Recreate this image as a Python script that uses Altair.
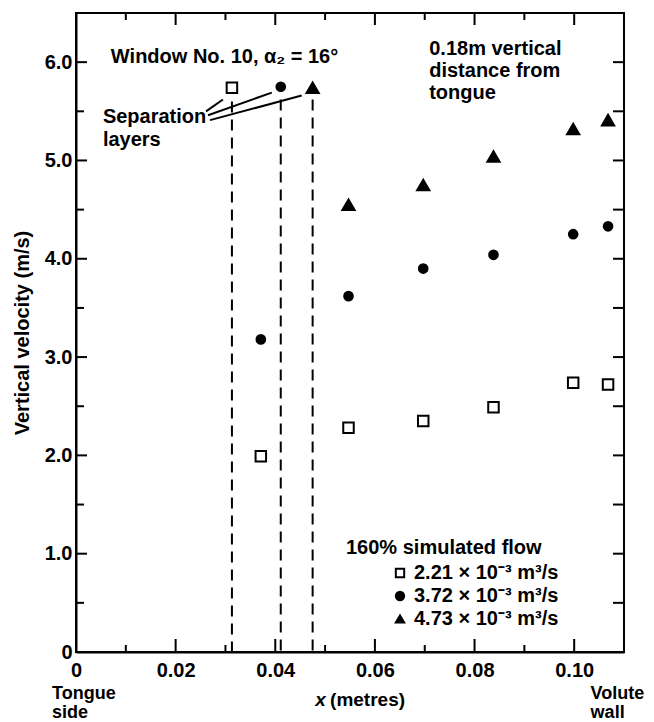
import altair as alt
import pandas as pd

# ---------------- data ----------------
series_labels = ["2.21 × 10⁻³ m³/s", "3.72 × 10⁻³ m³/s", "4.73 × 10⁻³ m³/s"]

x_sq = [0.0313, 0.0371, 0.0547, 0.0697, 0.0838, 0.0998, 0.1068]
v_sq = [5.74, 1.99, 2.28, 2.35, 2.49, 2.74, 2.72]
x_ci = [0.0411, 0.0371, 0.0547, 0.0697, 0.0838, 0.0998, 0.1068]
v_ci = [5.75, 3.18, 3.62, 3.90, 4.04, 4.25, 4.33]
x_tr = [0.0475, 0.0547, 0.0697, 0.0838, 0.0998, 0.1068]
v_tr = [5.74, 4.55, 4.75, 5.04, 5.32, 5.41]

# separation layer positions (dashed verticals)
sep_x = [0.0313, 0.0411, 0.0475]
sep_v = [5.60, 5.62, 5.62]

# leader lines for "Separation layers"
lead_x1 = [0.0261, 0.0265, 0.0269]
lead_v1 = [5.50, 5.46, 5.41]
lead_x2 = [0.0295, 0.0393, 0.0453]
lead_v2 = [5.62, 5.69, 5.66]

x_labels = [0, 0.02, 0.04, 0.06, 0.08, 0.10]
y_labels = [0, 1, 2, 3, 4, 5, 6]
xt_major = [0.02, 0.04, 0.06, 0.08, 0.10]
xt_minor = [0.01, 0.03, 0.05, 0.07, 0.09]
yt_major = [1.0, 2.0, 3.0, 4.0, 5.0, 6.0]
yt_minor = [0.5, 1.5, 2.5, 3.5, 4.5, 5.5]

# ---------------- layout ----------------
W, H = 548, 639
FONT = "Liberation Sans"
FS = 20

xs = alt.Scale(domain=[0, 0.11], nice=False, zero=False)
ys = alt.Scale(domain=[0, 6.5], nice=False, zero=False)

x_axis = alt.Axis(values=x_labels, labelExpr="datum.value == 0 ? '0' : format(datum.value, '.2f')",
                  ticks=False, grid=False, title=None, labelPadding=8, labelFlush=False,
                  domainWidth=2, domainColor="black", labelColor="black",
                  labelFont=FONT, labelFontSize=FS, labelFontWeight="bold")
y_axis = alt.Axis(values=y_labels, labelExpr="datum.value == 0 ? '0' : format(datum.value, '.1f')",
                  ticks=False, grid=False, title="Vertical velocity (m/s)", labelPadding=4,
                  labelFlush=False, domainWidth=2, domainColor="black", labelColor="black",
                  labelFont=FONT, labelFontSize=FS, labelFontWeight="bold",
                  titleFont=FONT, titleFontSize=FS, titleFontWeight="bold", titleColor="black",
                  titlePadding=12)

LEG = alt.Legend(
    title="160% simulated flow", orient="none", legendX=270, legendY=525,
    titleFont=FONT, titleFontSize=FS, titleFontWeight="bold", titleColor="black", titleLimit=400,
    labelFont=FONT, labelFontSize=FS, labelFontWeight="bold", labelColor="black",
    symbolSize=70, symbolStrokeColor="black", symbolStrokeWidth=2,
    symbolOffset=44, labelOffset=4, rowPadding=3, titlePadding=5, labelLimit=400,
)
shape_scale = alt.Scale(domain=series_labels, range=["square", "circle", "triangle-up"])
fill_scale = alt.Scale(domain=series_labels, range=["white", "black", "black"])
stroke_scale = alt.Scale(domain=series_labels, range=["black", "black", "black"])


def series_layer(xv, vv, name, size, first=False):
    d = pd.DataFrame({"x": xv, "v": vv, "series": [name] * len(xv)})
    return alt.Chart(d).mark_point(filled=False, strokeWidth=2, opacity=1,
                                   fillOpacity=1, size=size).encode(
        x=alt.X("x:Q", scale=xs, axis=x_axis) if first else alt.X("x:Q", scale=xs),
        y=alt.Y("v:Q", scale=ys, axis=y_axis) if first else alt.Y("v:Q", scale=ys),
        shape=alt.Shape("series:N", scale=shape_scale, legend=LEG),
        fill=alt.Fill("series:N", scale=fill_scale, legend=LEG),
        stroke=alt.Stroke("series:N", scale=stroke_scale, legend=LEG),
    )


points = [
    series_layer(x_sq, v_sq, series_labels[0], 110, first=True),
    series_layer(x_ci, v_ci, series_labels[1], 75),
    series_layer(x_tr, v_tr, series_labels[2], 150),
]

sep_df = pd.DataFrame({"x": sep_x, "v": sep_v})
dashed = alt.Chart(sep_df).mark_rule(stroke="black", strokeWidth=2, strokeDash=[11, 7]).encode(
    x=alt.X("x:Q", scale=xs),
    y=alt.Y("v:Q", scale=ys),
    y2=alt.datum(0),
)

lead_df = pd.DataFrame({"x": lead_x1, "v": lead_v1, "x2": lead_x2, "v2": lead_v2})
leaders = alt.Chart(lead_df).mark_rule(stroke="black", strokeWidth=2).encode(
    x=alt.X("x:Q", scale=xs),
    y=alt.Y("v:Q", scale=ys),
    x2="x2:Q",
    y2="v2:Q",
)


def tick_layer(vals, orient, length):
    d = pd.DataFrame({"x": vals, "v": vals})
    c = alt.Chart(d).mark_rule(stroke="black", strokeWidth=2)
    if orient == "bottom":
        return c.encode(x=alt.X("x:Q", scale=xs), y=alt.value(H), y2=alt.value(H - length))
    if orient == "top":
        return c.encode(x=alt.X("x:Q", scale=xs), y=alt.value(0), y2=alt.value(length))
    if orient == "left":
        return c.encode(y=alt.Y("v:Q", scale=ys), x=alt.value(0), x2=alt.value(length))
    return c.encode(y=alt.Y("v:Q", scale=ys), x=alt.value(W), x2=alt.value(W - length))


ticks = [
    tick_layer(xt_major, "bottom", 13), tick_layer(xt_minor, "bottom", 7),
    tick_layer(xt_major, "top", 12), tick_layer(xt_minor, "top", 7),
    tick_layer(yt_major, "left", 11), tick_layer(yt_minor, "left", 8),
    tick_layer(yt_major + yt_minor, "right", 11),
]


def label(txt, x, v, align="left", italic=False, lh=23, fs=FS):
    d = pd.DataFrame({"x": [x], "v": [v], "t": [txt]})
    return alt.Chart(d).mark_text(align=align, baseline="alphabetic", font=FONT, fontSize=fs,
                                  fontWeight="bold", fontStyle="italic" if italic else "normal",
                                  color="black", lineBreak="\n", lineHeight=lh).encode(
        x=alt.X("x:Q", scale=xs), y=alt.Y("v:Q", scale=ys), text="t:N")


texts = [
    label("Window No. 10, α₂ = 16°", 0.0070, 5.99),
    label("0.18m vertical\ndistance from\ntongue", 0.0709, 6.07, lh=22),
    label("Separation\nlayers", 0.0054, 5.38),
    label("Tongue\nside", -0.0048, -0.48, lh=19, fs=18),
    label("Volute\nwall", 0.1033, -0.48, lh=19, fs=18),
    label("x", 0.0480, -0.55, italic=True, fs=19),
    label("(metres)", 0.0510, -0.55, fs=19),
]

chart = alt.layer(dashed, leaders, *ticks, *points, *texts).properties(
    width=W, height=H,
    autosize=alt.AutoSizeParams(type="none"),
    padding={"left": 76, "top": 13, "right": 654 - 76 - W, "bottom": 722 - 13 - H},
    background="white",
).configure_view(stroke="black", strokeWidth=2)

chart.save("out.html", embed_options={"renderer": "svg", "actions": False})
